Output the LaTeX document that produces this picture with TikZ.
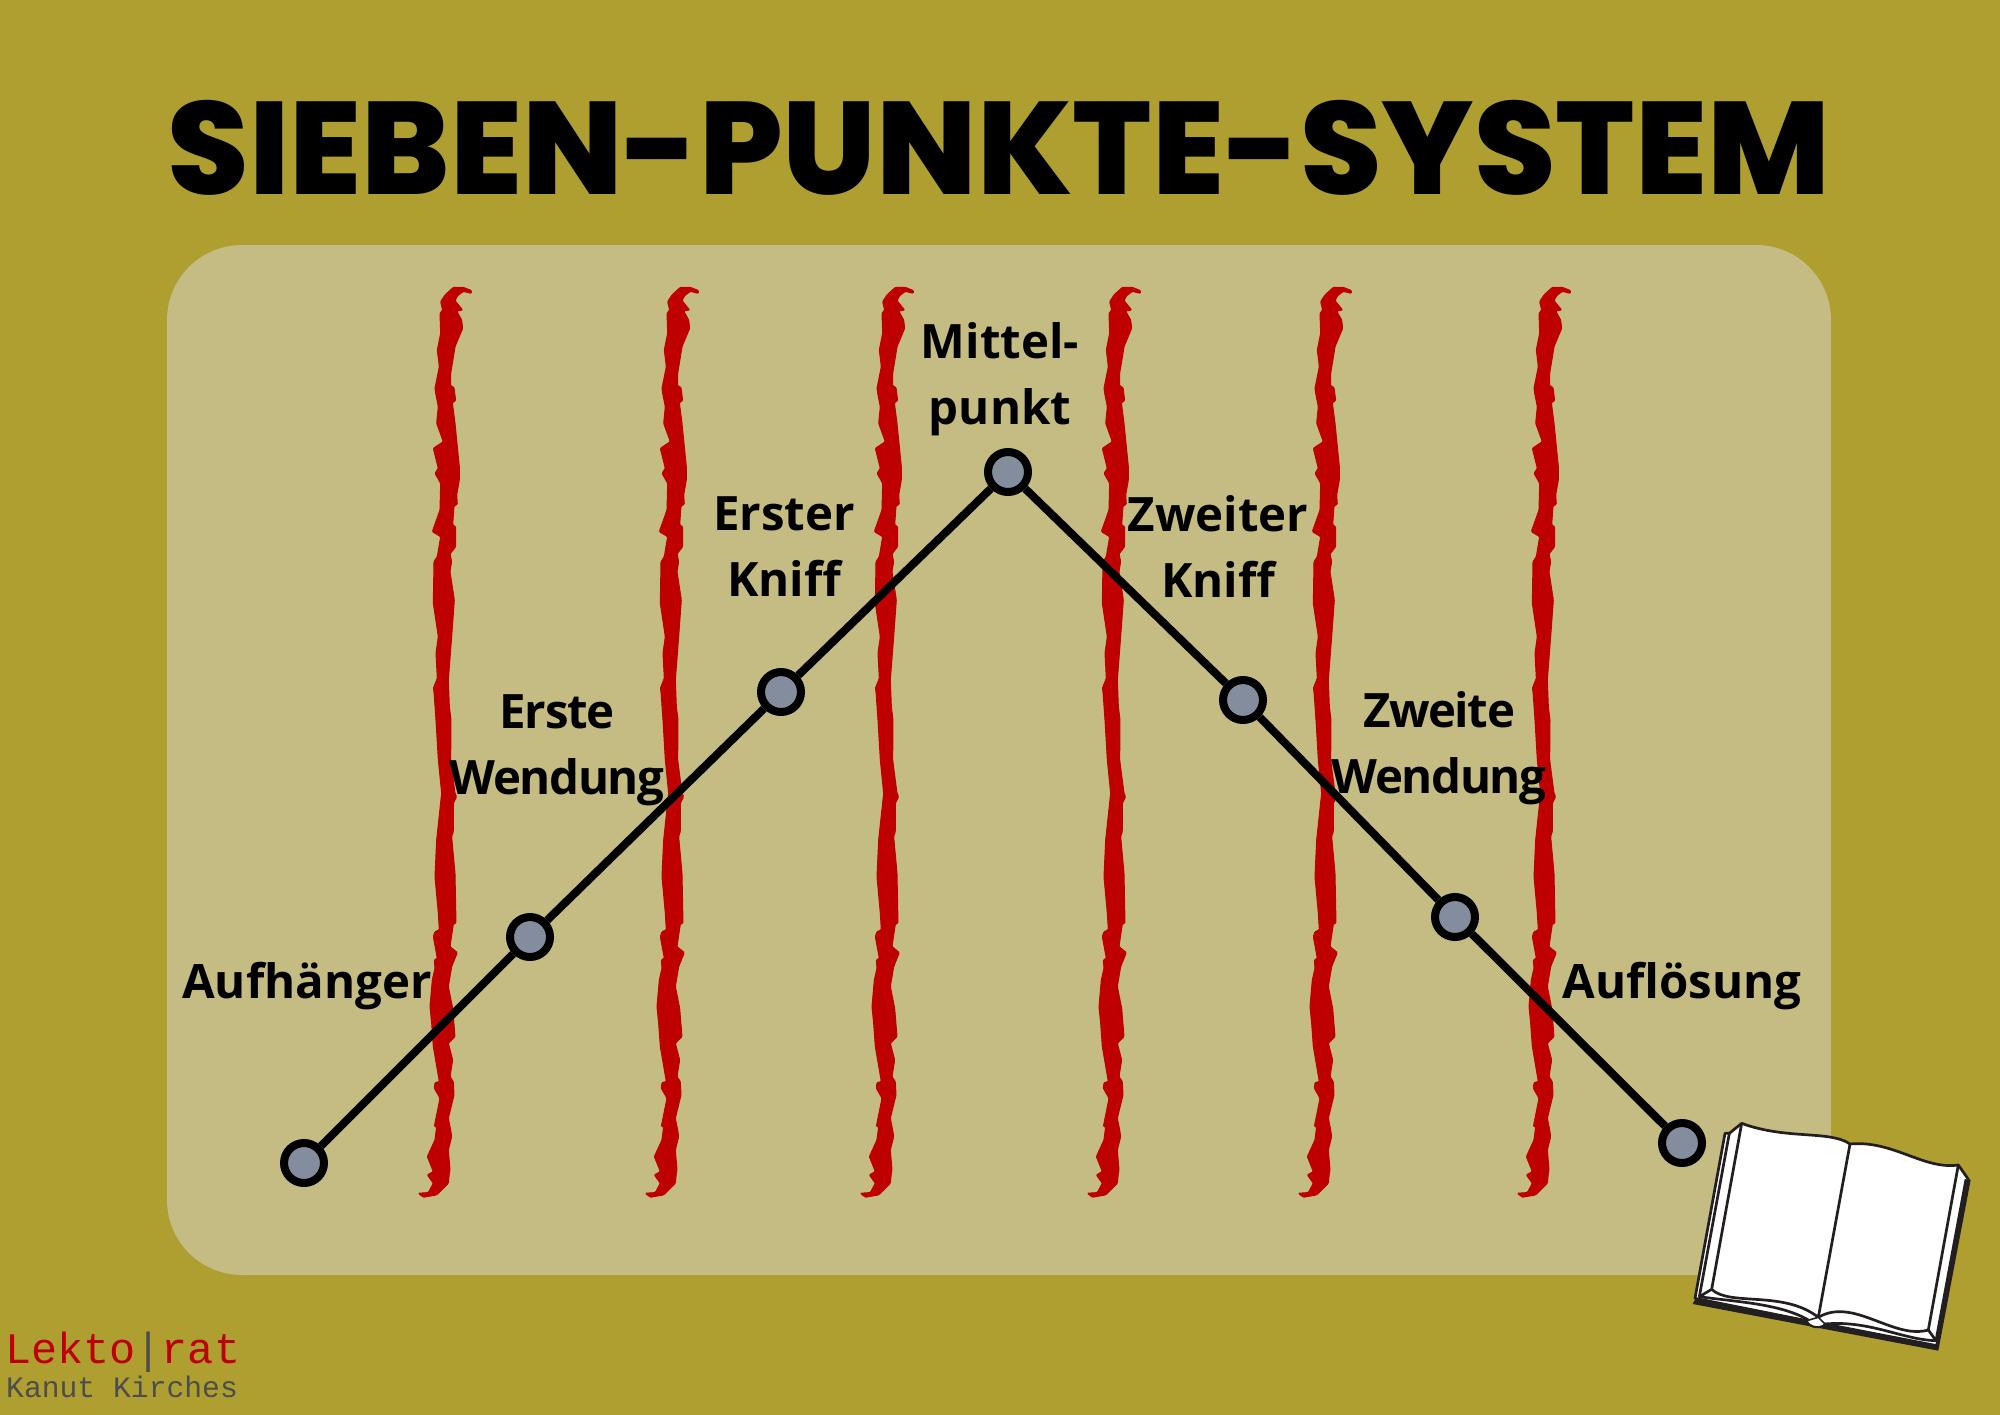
\documentclass[tikz,border=0pt]{standalone}
\usepackage{fontspec}
\setmainfont{Open Sans}
\newfontfamily\titlefont{Poppins ExtraBold}
\newfontfamily\signfont{Liberation Mono}
\definecolor{olivebg}{HTML}{AE9F30}
\definecolor{panelbg}{HTML}{C5BC84}
\definecolor{brushred}{HTML}{BE0000}
\definecolor{dotgray}{HTML}{848D9E}
\definecolor{signgray}{HTML}{4D4D4D}
\definecolor{bookline}{HTML}{231F20}
\tikzset{
    brush/.pic={
        \filldraw[brushred,line width=1pt,rounded corners=1pt,x=.3333pt,y=-.3333pt]
        (160,52)--(190,52)--(215,62)--(214,70)--(190,64)--(172,78)--(165,92)--(188,120)--(170,123)--(185,150)--(188,175)--(165,230)--(160,262)--(152,310)--(152,348)--(162,352)--(167,392)--(157,398)--(165,460)--(178,590)--(178,630)--(170,675)--(172,703)--(162,708)--(158,765)--(167,770)--(167,830)--(150,852)--(155,875)--(150,905)--(163,990)--(155,1100)--(145,1230)--(148,1310)--(153,1350)
        --(152,1470)--(165,1570)--(170,1580)--(160,1600)--(160,1685)--(155,1700)--(165,1810)--(168,1960)--(160,1962)--(150,2030)--(172,2048)--(155,2090)--(145,2150)--(158,2215)--(165,2300)--(145,2320)--(158,2370)--(150,2420)--(160,2435)--(162,2475)--(145,2545)--(152,2580)--(155,2600)--(145,2640)--(150,2700)--(148,2710)--(145,2740)--(110,2775)--(70,2782)--(55,2770)
        --(85,2768)--(100,2740)--(82,2715)--(100,2705)--(82,2660)--(105,2610)--(110,2570)--(103,2570)--(120,2485)--(103,2455)--(105,2438)--(118,2435)--(100,2330)--(95,2260)--(90,2210)--(97,2130)--(105,2095)--(103,2070)--(112,2065)--(100,2000)--(105,1985)--(118,1980)--(115,1930)--(105,1820)--(110,1710)--(125,1570)--(115,1470)
        --(108,1350)--(102,1265)--(100,1255)--(112,1225)--(108,1150)--(115,1100)--(100,1000)--(102,875)--(112,860)--(122,800)--(97,785)--(120,720)--(122,640)--(105,610)--(115,595)--(100,535)--(130,515)--(110,460)--(115,410)--(108,375)--(105,355)--(118,290)--(112,240)--(122,190)--(120,130)--(128,120)--(122,95)--(135,75)--cycle;
    },
}
\begin{document}
\begin{tikzpicture}
[
    x=1pt,y=-1pt,
    point/.style={circle,draw=black,fill=dotgray,line width=8pt,minimum size=40pt,inner sep=0pt},
    link/.style={draw=black,line width=8pt},
    caption/.style={font=\fontsize{47.4}{66}\selectfont\bfseries,align=center,inner sep=0pt},
    tight/.style={font=\fontsize{47.4}{66}\selectfont\bfseries\addfontfeature{LetterSpace=-3}},
    sign/.style={anchor=base west,inner sep=0pt},
    bookedge/.style={draw=bookline,line width=2.7pt,line join=round},
]
\useasboundingbox (0,0) rectangle (2000,1414);
\fill[olivebg] (-5,-5) rectangle (2005,1419);
\fill[panelbg,rounded corners=75pt] (167,245) rectangle (1831,1275);
\node[inner sep=0pt] (title) at (999,148) {\fontsize{131.6}{131}\selectfont\titlefont SIEBEN-PUNKTE-SYSTEM};
\foreach \dx in {0,227,442,669,880,1099}
    \pic at (400+\dx,270) {brush};
\node[point] (p1) at (304,1163) {};
\node[point] (p2) at (530,937) {};
\node[point] (p3) at (781,692) {};
\node[point] (p4) at (1008,472) {};
\node[point] (p5) at (1243,700) {};
\node[point] (p6) at (1455,917) {};
\node[point] (p7) at (1682,1143) {};
\draw[link] (p1) -- (p2);
\draw[link] (p2) -- (p3);
\draw[link] (p3) -- (p4);
\draw[link] (p4) -- (p5);
\draw[link] (p5) -- (p6);
\draw[link] (p6) -- (p7);
\node[caption] (hook) at (307,986) {Aufhänger};
\node[caption,tight] (turn1) at (557,750) {Erste\\Wendung};
\node[caption] (pinch1) at (784,547) {Erster\\Kniff};
\node[caption] (mid) at (1000,379) {Mittel-\\punkt};
\node[caption] (pinch2) at (1218,546) {Zweiter\\Kniff};
\node[caption,tight] (turn2) at (1439,748) {Zweite\\Wendung};
\node[caption] (res) at (1682,986) {Auflösung};
\begin{scope}[shift={(1640,1080)},x=.3333pt,y=-.3333pt]
    \fill[bookline] (158,672) -- (895,812) -- (992,300) -- (960,290) -- (880,780) -- (170,650) -- cycle;
    \filldraw[fill=white,bookedge] (305,130) -- (268,160) -- (255,160) -- (165,655) -- (500,722) .. controls (510,745) and (545,745) .. (555,732) -- (890,797) -- (985,298) -- (955,255)
        .. controls (850,270) and (760,180) .. (630,192) .. controls (570,150) and (440,180) .. (305,130) -- cycle;
    \draw[bookedge] (268,160) -- (178,650);
    \draw[bookedge] (305,130) -- (215,628) -- (178,650) .. controls (280,665) and (420,670) .. (505,720);
    \draw[bookedge] (215,628) .. controls (270,680) and (430,630) .. (535,712) -- (630,192);
    \draw[bookedge] (535,712) .. controls (640,650) and (760,780) .. (865,750) -- (955,255);
    \draw[bookedge] (865,750) -- (888,782) .. controls (790,780) and (690,720) .. (555,732);
    \draw[bookedge] (888,782) -- (978,298);
    \filldraw[fill=white,bookedge,line width=1.6pt] (500,722) -- (535,712) -- (555,732) .. controls (545,745) and (510,745) .. (500,722) -- cycle;
\end{scope}
\node[sign] (brand) at (5,1363) {\fontsize{43.5}{44}\selectfont\signfont\textcolor{brushred}{Lekto}\textcolor{signgray}{|}\textcolor{brushred}{rat}};
\node[sign] (author) at (6,1397) {\fontsize{29.7}{30}\selectfont\signfont\textcolor{signgray}{Kanut Kirches}};
\end{tikzpicture}
\end{document}
